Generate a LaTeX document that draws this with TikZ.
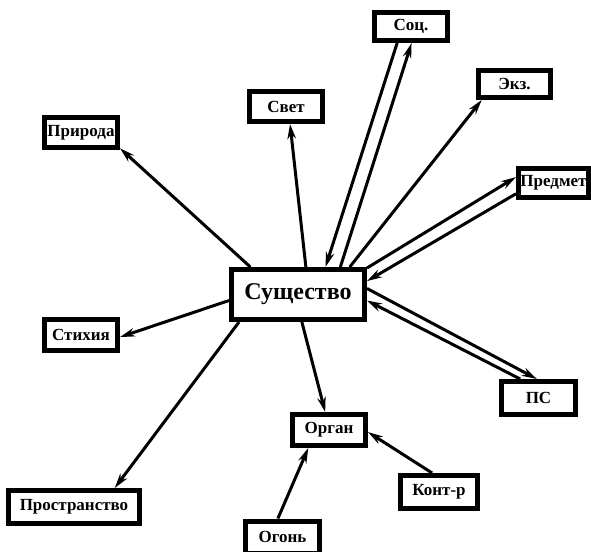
\documentclass[tikz,border=0pt]{standalone}
\usepackage{fontspec}
\setmainfont{Liberation Serif}
\usepackage{tikz}
\usetikzlibrary{arrows.meta, positioning}

\begin{document}
\begin{tikzpicture}[x=1pt,y=-1pt]
    \tikzstyle{every node} = [font=\bfseries\fontsize{17}{17}\selectfont]
    \tikzstyle{concept} = [draw, rectangle, line width=5pt, inner sep=1pt, minimum width=73pt, minimum height=30pt]
    \tikzstyle{link} = [-{Stealth[length=15pt,width=8.5pt]}, line width=3pt]
    \useasboundingbox (0,0) rectangle (591,551);

    % place nodes
    \node[concept,minimum width=133pt,minimum height=50pt,font=\bfseries\fontsize{24}{24}\selectfont](sush) at (298,294.5){Существо};
    \node[concept](svet) at (286,106.5){Свет};
    \node[concept](prir) at (81,132.5){Природа};
    \node[concept,minimum height=31pt](stix) at (81,335){Стихия};
    \node[concept,minimum height=28pt](soc) at (411,26.5){Соц.};
    \node[concept,minimum width=72pt,minimum height=27pt](ekz) at (514.5,84){Экз.};
    \node[concept,minimum width=70pt,minimum height=29pt](pred) at (553.5,183){Предмет};
    \node[concept,minimum width=74pt,minimum height=33pt](ps) at (538.5,398){ПС};
    \node[concept,minimum width=131pt,minimum height=33pt](prost) at (74,507){Пространство};
    \node[concept,minimum height=31pt](organ) at (329,430){Орган};
    \node[concept,minimum width=77pt,minimum height=33pt](kontr) at (439,492){Конт-р};
    \node[concept,minimum width=74pt,minimum height=32pt](ogon) at (282.5,537){Огонь};

    % Connections
    \draw[link] (sush.150)--(prir.-22);
    \draw[link] (sush.74)--(svet.-77);
    \draw[link] (soc.-130)--(sush.45);
    \draw[link] (sush.33)--(soc.-88);
    \draw[link] (sush.28)--(ekz.-154);
    \draw[link] (sush.21)--(pred.171);
    \draw[link] (pred.-164)--(sush.11);
    \draw[link] (sush.5)--(ps.95);
    \draw[link] (ps.134)--(sush.-5);
    \draw[link] (sush.185)--(stix.-3);
    \draw[link] (sush.-155)--(prost.25);
    \draw[link] (sush.-82)--(organ.102);
    \draw[link] (ogon.104)--(organ.-139);
    \draw[link] (kontr.110)--(organ.-3);

  \end{tikzpicture}
\end{document}
